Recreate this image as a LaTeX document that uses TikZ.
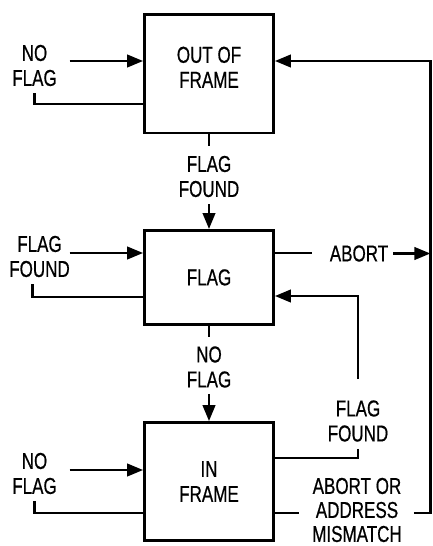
\documentclass[tikz,border=0pt]{standalone}
\usepackage{fontspec}
\setmainfont{Liberation Sans}[FakeStretch=0.74,FakeBold=0.6]
\usetikzlibrary{arrows.meta}
\begin{document}
\begin{tikzpicture}[x=1pt,y=-1pt,
  every node/.style={font=\fontsize{23}{25}\selectfont},
  statebox/.style={draw, line width=2.8pt, minimum width=129pt, inner sep=0pt, align=center},
  lbl/.style={align=center, inner sep=0pt},
  wire/.style={line width=2.5pt},
  arr/.style={wire, -{Triangle[length=16pt,width=12.5pt]}}]
\useasboundingbox (0,0) rectangle (433,546);
% states
\node[statebox, minimum height=118.5pt] (oof) at (209,73.75) {OUT OF\\FRAME\\[-12pt]};
\node[statebox, minimum height=94pt] (fl) at (209,277.4) {FLAG};
\node[statebox, minimum height=118pt] (inf) at (209,481.5) {IN\\FRAME};
% labels
\node[lbl] (nf1) at (34.5,65.5) {NO\\FLAG};
\node[lbl] (ff1) at (209,176.5) {FLAG\\FOUND};
\node[lbl] (ff2) at (39.5,256.5) {FLAG\\FOUND};
\node[lbl] (ab) at (359,253.5) {ABORT};
\node[lbl] (nf2) at (209,367) {NO\\FLAG};
\node[lbl] (ff3) at (358,421) {FLAG\\FOUND};
\node[lbl] (nf3) at (34.5,473.5) {NO\\FLAG};
\node[lbl, font=\fontsize{23}{24}\selectfont] (aam) at (357,510) {ABORT OR\\ADDRESS\\MISMATCH};
% anchor points on the boxes
\coordinate (a1) at ([yshift=12.75pt]oof.west);
\coordinate (l1) at ([yshift=-30.25pt]oof.west);
\coordinate (a1r) at ([yshift=12.75pt]oof.east);
\coordinate (a2) at ([yshift=24.4pt]fl.west);
\coordinate (l2) at ([yshift=-19.6pt]fl.west);
\coordinate (r2) at ([yshift=24.4pt]fl.east);
\coordinate (r2b) at ([yshift=-18.6pt]fl.east);
\coordinate (a3) at ([yshift=11.5pt]inf.west);
\coordinate (l3) at ([yshift=-31.5pt]inf.west);
\coordinate (r3) at ([yshift=23.5pt]inf.east);
\coordinate (b3) at ([yshift=-31.5pt]inf.east);
\coordinate (rtop) at ([xshift=155.5pt]a1r);
% OUT OF FRAME self loop
\draw[arr] ([xshift=-73.5pt]a1) -- (a1);
\draw[wire] ([yshift=-7pt]nf1.south) |- (l1);
% OUT OF FRAME -> FLAG
\draw[wire] (oof.south) -- ([yshift=10pt]ff1.north);
\draw[arr] ([yshift=-7pt]ff1.south) -- (fl.north);
% FLAG self loop
\draw[arr] ([xshift=-73.5pt]a2) -- (a2);
\draw[wire] ([xshift=-110.5pt,yshift=-7pt]l2 |- ff2.south) |- (l2);
% FLAG abort
\draw[wire] (r2) -- ([xshift=-18pt]ab.west |- r2);
\draw[arr] ([xshift=5pt]ab.east) -- (ab.east -| rtop);
% FLAG -> IN FRAME
\draw[wire] (fl.south) -- ([yshift=9pt]nf2.north);
\draw[arr] ([yshift=-6pt]nf2.south) -- (inf.north);
% IN FRAME -> FLAG
\draw[arr] ([yshift=21pt]ff3.north) |- (r2b);
\draw[wire] ([yshift=-7pt]ff3.south) |- (r3);
% IN FRAME self loop
\draw[arr] ([xshift=-73.5pt]a3) -- (a3);
\draw[wire] ([yshift=-7pt]nf3.south) |- (l3);
% IN FRAME -> OUT OF FRAME
\draw[wire] (b3) -- ([xshift=-13pt]aam.west |- b3);
\draw[arr] ([xshift=12pt]aam.east |- b3) -| (rtop) -- (a1r);
\end{tikzpicture}
\end{document}
